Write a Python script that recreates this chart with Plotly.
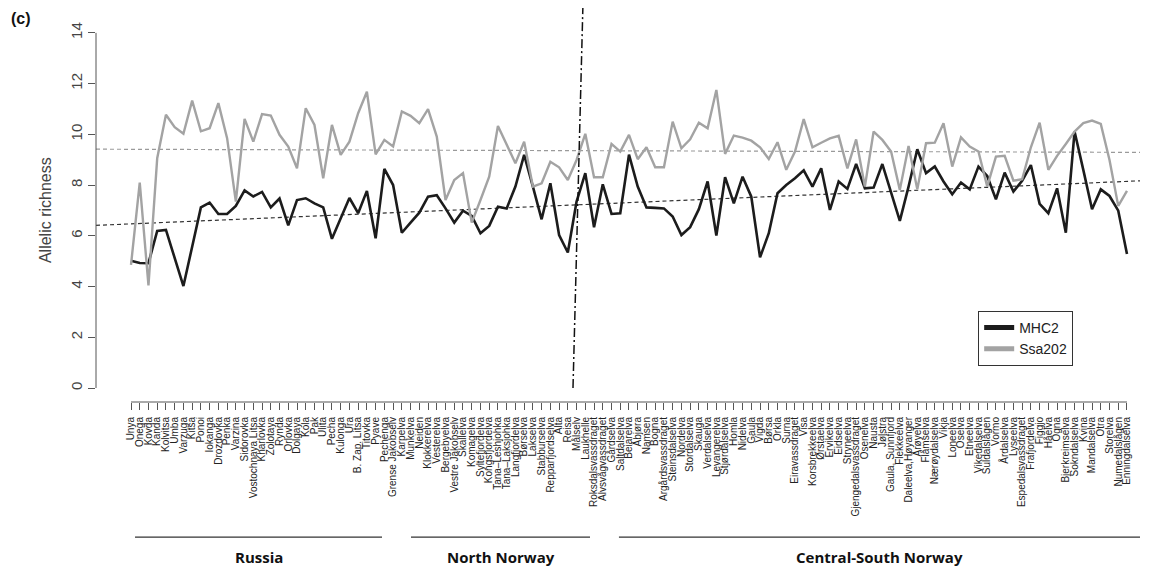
import plotly.graph_objects as go

rivers = [
    "Unya", "Onega", "Kovda", "Kanda", "Kolvitsa", "Umba", "Varzuga", "Kitsa", "Ponoi", "Iokanga",
    "Drozdovka", "Penka", "Varzina", "Sidorovka", "Vostochnaya Litsa", "Kharlovka", "Zolotaya", "Rynda",
    "Orlovka", "Dolgaya", "Kola", "Pak", "Ulita", "Pecha", "Kulonga", "Ura", "B. Zap. Litsa", "Titovka",
    "Pyave", "Pechenga",
    "Grense Jakobselv", "Karpelva", "Munkelva", "Neiden", "Klokkerelva", "Vesterelva", "Bergebyelva",
    "Vestre Jakobselv", "Skallelva", "Komagelva", "Syltefjordelva", "Kongsfjordelva", "Tana–Leshjohka",
    "Tana–Laksjohka", "Langfjordelva", "Børselva", "Lakselva", "Stabburselva", "Repparfjordselva", "Alta",
    "Reisa", "Målselv", "Laukhelle",
    "Roksdalsvassdraget", "Alvsvågvassdraget", "Gårdselva", "Saltdalselva", "Beiarelva", "Åbjøra", "Namsen",
    "Bogna", "Argårdsvassdraget", "Steinsdalselva", "Nordelva", "Stordalselva", "Skauga", "Verdalselva",
    "Levangerelva", "Stjørdalselva", "Homla", "Nidelva", "Gaula", "Vigda", "Børsa", "Orkla", "Surna",
    "Eiravassdraget", "Visa", "Korsbrekkeelva", "Ørstaelva", "Ervikelva", "Eidselva", "Stryneelva",
    "Gjengedalsvassdraget", "Osenelva", "Nausta", "Jølstra", "Gaula, Sunnfjord", "Flekkeelva",
    "Daleelva,Høyanger", "Årøyelva", "Flåmselva", "Nærøydalselva", "Vikja", "Loneelva", "Oselva", "Etneelva",
    "Vikedalselva", "Suldalslågen", "Vormo", "Årdalselva", "Lyseelva", "Espedalsvassdraget", "Frafjordelva",
    "Figgjo", "Håelva", "Ogna", "Bjerkreimselva", "Sokndalselva", "Kvina", "Mandalselva", "Otra", "Storelva",
    "Numedalslågen", "Enningdalselva",
]

mhc2 = [
    5.02, 4.93, 4.92, 6.19, 6.23, 5.11, 4.02, 5.57, 7.12, 7.31,
    6.86, 6.86, 7.18, 7.79, 7.55, 7.73, 7.12, 7.47, 6.41, 7.41,
    7.48, 7.28, 7.12, 5.88, 6.69, 7.49, 6.89, 7.77, 5.90, 8.64,
    8.00, 6.12, 6.52, 6.91, 7.54, 7.60, 7.08, 6.52, 6.99, 6.78,
    6.10, 6.39, 7.15, 7.08, 7.94, 9.19, 7.94, 6.65, 8.07, 6.03,
    5.34, 7.35, 8.47, 6.34, 8.03, 6.86, 6.89, 9.20, 7.94, 7.12,
    7.10, 7.08, 6.76, 6.03, 6.34, 7.05, 8.14, 6.01, 8.31, 7.28,
    8.33, 7.54, 5.15, 6.10, 7.68, 8.00, 8.27, 8.58, 7.94, 8.66,
    7.02, 8.14, 7.85, 8.83, 7.87, 7.90, 8.83, 7.68, 6.59, 7.94,
    9.41, 8.47, 8.73, 8.14, 7.64, 8.10, 7.83, 8.73, 8.36, 7.44,
    8.49, 7.74, 8.17, 8.79, 7.26, 6.89, 7.87, 6.12, 10.11, 8.60,
    7.05, 7.83, 7.57, 6.99, 5.28,
]

ssa202 = [
    4.85, 8.10, 4.04, 9.06, 10.77, 10.28, 10.02, 11.33, 10.12, 10.24,
    11.23, 9.85, 7.35, 10.61, 9.71, 10.80, 10.74, 9.98, 9.52, 8.66,
    11.03, 10.37, 8.27, 10.37, 9.19, 9.71, 10.83, 11.68, 9.21, 9.78,
    9.52, 10.90, 10.73, 10.44, 10.99, 9.91, 7.41, 8.20, 8.47, 6.52,
    7.41, 8.33, 10.33, 9.58, 8.86, 9.71, 7.94, 8.07, 8.92, 8.70,
    8.20, 8.99, 10.02, 8.31, 8.31, 9.62, 9.32, 9.98, 9.02, 9.49,
    8.70, 8.70, 10.50, 9.45, 9.80, 10.46, 10.24, 11.75, 9.23, 9.95,
    9.87, 9.75, 9.49, 9.03, 9.69, 8.60, 9.32, 10.60, 9.49, 9.67,
    9.84, 9.94, 8.66, 9.80, 7.94, 10.11, 9.78, 9.32, 7.81, 9.54,
    7.83, 9.65, 9.67, 10.44, 8.73, 9.88, 9.52, 9.32, 7.94, 9.12,
    9.15, 8.17, 8.23, 9.49, 10.46, 8.60, 9.15, 9.62, 10.11, 10.44,
    10.54, 10.41, 8.99, 7.18, 7.77,
]

# trend lines: value at first river and slope per river
mhc2_trend = [6.47, 0.0147]
ssa202_trend = [9.41, -0.00105]

groups = ["Russia", "North Norway", "Central-South Norway"]

x = list(range(len(rivers)))
XR = [-4.006, 115.49]
YR = [-0.552, 14.98]

fig = go.Figure()
fig.add_trace(go.Scatter(x=x, y=mhc2, mode="lines", name="MHC2",
                         line=dict(color="#1c1c1c", width=2.6)))
fig.add_trace(go.Scatter(x=x, y=ssa202, mode="lines", name="Ssa202",
                         line=dict(color="#a3a3a3", width=2.4)))

shapes = []
for (b0, b1), col in [(mhc2_trend, "#333333"), (ssa202_trend, "#9a9a9a")]:
    shapes.append(dict(type="line", xref="x", yref="y", x0=XR[0], x1=XR[1],
                       y0=b0 + b1 * XR[0], y1=b0 + b1 * XR[1],
                       line=dict(color=col, width=1.2, dash="4px,3px"), layer="below"))
# slanted dash-dot separator
shapes.append(dict(type="line", xref="x", yref="y", x0=50.59, y0=0, x1=51.72, y1=YR[1],
                   line=dict(color="#111111", width=1.5, dash="9px,3px,2px,3px")))
# axis lines (R style, only across ticks)
shapes.append(dict(type="line", xref="paper", yref="y", x0=0, x1=0, y0=0, y1=14,
                   line=dict(color="#555555", width=1)))
shapes.append(dict(type="line", xref="x", yref="paper", x0=0, x1=len(rivers) - 1, y0=0, y1=0,
                   line=dict(color="#555555", width=1)))
# group underlines
spans = [(0.46, 28.73), (32.05, 52.54), (55.85, 115.49)]
for s0, s1 in spans:
    shapes.append(dict(type="line", xref="x", yref="paper", x0=s0, x1=s1, y0=-0.343, y1=-0.343,
                       line=dict(color="#333333", width=1.3)))

annotations = []
for g, (s0, s1) in zip(groups, spans):
    annotations.append(dict(text=g, xref="x", yref="paper", x=(s0 + s1) / 2, y=-0.393,
                            showarrow=False, xanchor="center", yanchor="middle",
                            font=dict(family="Open Sans", size=15, color="#111111", weight="bold")))
annotations.append(dict(text="Allelic richness", xref="paper", yref="paper", x=-0.0489, y=0.487,
                        textangle=-90, showarrow=False, xanchor="center", yanchor="middle",
                        font=dict(family="Liberation Sans", size=16, color="#444444")))
annotations.append(dict(text="<b>(c)</b>", xref="paper", yref="paper", x=-0.0718, y=0.9746,
                        showarrow=False, xanchor="center", yanchor="middle",
                        font=dict(family="Liberation Sans", size=16, color="#111111")))

fig.update_layout(
    width=1167, height=573,
    margin=dict(l=96, r=27, t=8, b=171),
    plot_bgcolor="white", paper_bgcolor="white",
    shapes=shapes, annotations=annotations,
    showlegend=True,
    legend=dict(x=0.845, y=0.231, xanchor="left", yanchor="top",
                bgcolor="white", bordercolor="#333333", borderwidth=1,
                font=dict(family="Liberation Sans", size=14, color="#222222"),
                tracegroupgap=0, itemwidth=30, itemsizing="constant"),
)
fig.update_xaxes(range=XR, tickmode="array", tickvals=x, ticktext=rivers, tickangle=-90,
                 ticks="outside", ticklen=7, tickcolor="#555555", showgrid=False, zeroline=False,
                 showline=False, ticklabelstandoff=3,
                 tickfont=dict(family="Liberation Sans", size=10, color="#222222"))
fig.update_yaxes(range=YR, tickmode="array", tickvals=[0, 2, 4, 6, 8, 10, 12, 14], tickangle=-90,
                 ticks="outside", ticklen=7, tickcolor="#555555", showgrid=False, zeroline=False,
                 showline=False, tickfont=dict(family="Liberation Sans", size=15, color="#444444"))

fig.write_html("out.html")
